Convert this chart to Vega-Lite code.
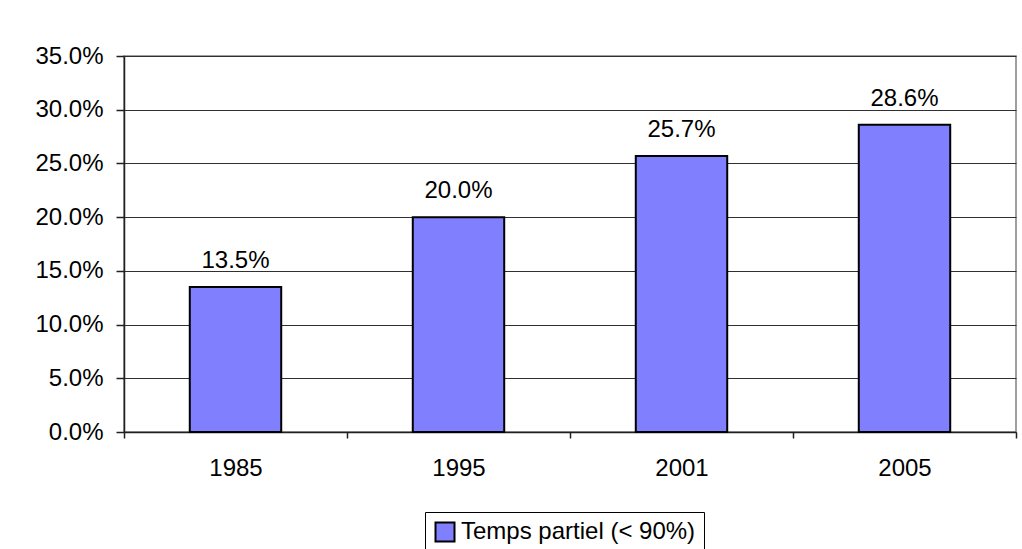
{
  "$schema": "https://vega.github.io/schema/vega-lite/v6.json",
  "autosize": "none",
  "width": 892,
  "height": 376,
  "padding": {"left": 124, "top": 56, "right": 6, "bottom": 117},
  "background": "white",
  "config": {
    "font": "Liberation Sans",
    "view": {"stroke": "#808080", "strokeWidth": 1.5}
  },
  "data": {
    "values": [
      {"annee": "1985", "valeur": 0.135, "serie": "Temps partiel (< 90%)"},
      {"annee": "1995", "valeur": 0.200, "serie": "Temps partiel (< 90%)"},
      {"annee": "2001", "valeur": 0.257, "serie": "Temps partiel (< 90%)"},
      {"annee": "2005", "valeur": 0.286, "serie": "Temps partiel (< 90%)"}
    ]
  },
  "encoding": {
    "x": {
      "field": "annee",
      "type": "nominal",
      "scale": {"paddingInner": 0, "paddingOuter": 0},
      "axis": {
        "title": null,
        "labelAngle": 0,
        "labelFontSize": 24,
        "labelColor": "black",
        "labelPadding": 18,
        "tickBand": "extent",
        "tickSize": 6,
        "tickColor": "#202020",
        "tickWidth": 1.5,
        "domainColor": "#202020",
        "domainWidth": 1.5,
        "grid": false
      }
    },
    "y": {
      "field": "valeur",
      "type": "quantitative",
      "scale": {"domain": [0, 0.35]},
      "axis": {
        "title": null,
        "values": [0, 0.05, 0.1, 0.15, 0.2, 0.25, 0.3, 0.35],
        "format": ".1%",
        "labelFontSize": 24,
        "labelColor": "black",
        "labelPadding": 13,
        "tickSize": 8,
        "tickColor": "#202020",
        "tickWidth": 1.5,
        "domainColor": "#202020",
        "domainWidth": 1.5,
        "grid": true,
        "gridColor": "#303030",
        "gridWidth": 1.2
      }
    }
  },
  "layer": [
    {
      "mark": {"type": "bar", "width": {"band": 0.41}, "stroke": "black", "strokeWidth": 2},
      "encoding": {
        "color": {
          "field": "serie",
          "type": "nominal",
          "scale": {"range": ["#8080FF"]},
          "legend": {
            "title": null,
            "orient": "none",
            "legendX": 301,
            "legendY": 456,
            "direction": "horizontal",
            "symbolType": "square",
            "symbolSize": 361,
            "symbolStrokeColor": "black",
            "symbolStrokeWidth": 2,
            "symbolOpacity": 1,
            "labelFontSize": 24,
            "labelColor": "black",
            "labelLimit": 400,
            "labelOffset": 4,
            "padding": 8,
            "strokeColor": "black",
            "fillColor": "white"
          }
        }
      }
    },
    {
      "mark": {"type": "text", "baseline": "alphabetic", "dy": -19, "fontSize": 24, "color": "black"},
      "encoding": {
        "text": {"field": "valeur", "type": "quantitative", "format": ".1%"}
      }
    }
  ]
}
